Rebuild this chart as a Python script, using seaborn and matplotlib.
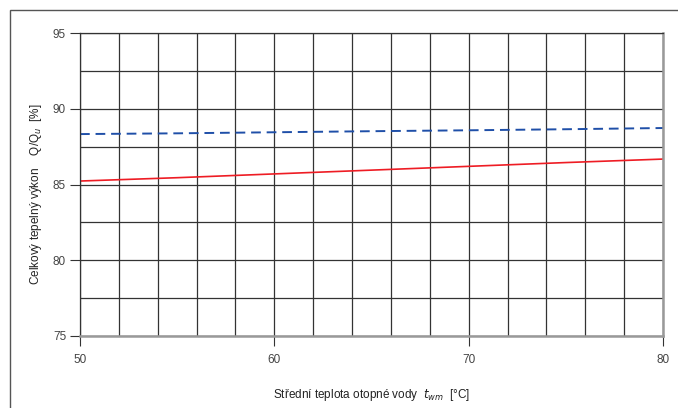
import numpy as np
import pandas as pd
import matplotlib
matplotlib.use("Agg")
import matplotlib.pyplot as plt
import seaborn as sns
from matplotlib.patches import Rectangle

# mean heating water temperature [°C]
temps = [50, 55, 60, 65, 70, 75, 80]
# total heat output Q/Qu [%]
output_solid = [85.23, 85.45, 85.70, 85.95, 86.20, 86.45, 86.68]
output_dashed = [88.33, 88.38, 88.45, 88.52, 88.58, 88.65, 88.73]

x_ticks = [50, 60, 70, 80]
y_ticks = [75, 80, 85, 90, 95]

sns.set_style("white")
plt.rcParams['font.family'] = ['Liberation Sans', 'DejaVu Sans']

df = pd.DataFrame({
    "t": temps * 2,
    "q": output_solid + output_dashed,
    "serie": ["a"] * len(temps) + ["b"] * len(temps),
})

fig = plt.figure(figsize=(6.78, 4.08), dpi=100)
ax = fig.add_axes([0.118, 0.1765, 0.860, 0.7425])

# outer frame
fig.patches.append(Rectangle((10 / 678, -0.05), 1.1, 1 - 10 / 408 + 0.05,
                             transform=fig.transFigure, fill=False,
                             edgecolor="#555555", linewidth=1.0))

sns.lineplot(data=df[df.serie == "a"], x="t", y="q", ax=ax, color="#ee1c24", linewidth=1.2)
sns.lineplot(data=df[df.serie == "b"], x="t", y="q", ax=ax, color="#1f4fa8",
             linewidth=1.4, linestyle=(0, (5, 3)))

ax.set_xlim(50, 80)
ax.set_ylim(75, 95)
ax.set_xticks(np.arange(50, 81, 2), minor=True)
ax.set_yticks(np.arange(75, 95.1, 2.5), minor=True)
ax.set_xticks(x_ticks)
ax.set_yticks(y_ticks)
ax.grid(True, which="both", color="#333333", linewidth=0.9)
ax.set_axisbelow(True)
ax.tick_params(which="major", length=7, width=0.8, color="#333333",
               labelsize=8.5, labelcolor="#444444", bottom=True, left=True, pad=3)
ax.tick_params(axis="x", which="major", pad=6)
ax.tick_params(which="minor", length=0)

for s in ["top", "left"]:
    ax.spines[s].set_color("#333333")
    ax.spines[s].set_linewidth(0.9)
for s in ["right", "bottom"]:
    ax.spines[s].set_color("#999999")
    ax.spines[s].set_linewidth(1.8)

ax.set_xlabel(r"Střední teplota otopné vody  $t_{wm}$  [°C]", fontsize=8.5, color="#222222")
ax.set_ylabel(r"Celkový tepelný výkon    Q/Q$_u$  [%]", fontsize=8.5, color="#222222")
ax.xaxis.set_label_coords(0.5, -0.17)
ax.yaxis.set_label_coords(-0.062, 0.47)

fig.savefig("out.png", dpi=100)
